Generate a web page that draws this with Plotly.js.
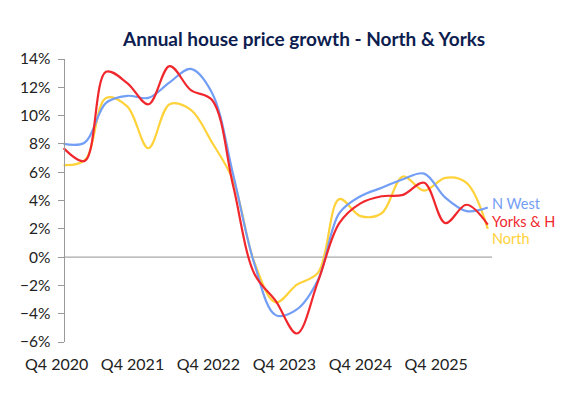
<!DOCTYPE html>
<html>
<head>
<meta charset="utf-8">
<script src="https://cdn.plot.ly/plotly-3.0.1.min.js"></script>
<style>html,body{margin:0;padding:0;background:#fff;}#chart{width:586px;height:397px;}</style>
</head>
<body>
<div id="chart"></div>
<script>
// Quarters Q4 2020 .. Q4 2025
const quarters = ['Q4 2020','Q1 2021','Q2 2021','Q3 2021','Q4 2021','Q1 2022','Q2 2022','Q3 2022','Q4 2022',
  'Q1 2023','Q2 2023','Q3 2023','Q4 2023','Q1 2024','Q2 2024','Q3 2024','Q4 2024','Q1 2025','Q2 2025','Q3 2025','Q4 2025'];
const tickLabels = ['Q4 2020','Q4 2021','Q4 2022','Q4 2023','Q4 2024','Q4 2025'];

const nWest  = [8.0, 8.1, 10.9, 11.4, 11.25, 12.35, 13.3, 11.6, 5.8, -0.5, -4.1, -3.7, -1.6, 3.1, 4.3, 4.9, 5.5, 5.9, 4.2, 3.25, 3.5];
const yorksH = [7.7, 6.8, 13.1, 12.3, 10.8, 13.5, 11.8, 11.1, 5.0, -1.2, -3.1, -5.4, -1.7, 2.4, 3.8, 4.3, 4.4, 5.25, 2.4, 3.7, 2.3];
const north  = [6.5, 6.85, 11.25, 10.65, 7.7, 10.8, 10.4, 8.1, 5.4, -0.4, -3.2, -1.95, -1.1, 4.1, 2.9, 3.1, 5.7, 4.7, 5.6, 5.25, 2.0];

const seriesNames = ['N West', 'Yorks & H', 'North'];
const seriesData = [nWest, yorksH, north];
const colors = ['#739ef5', '#f0282d', '#ffd23a'];
const labelShift = [4, 3.5, -9.5];

const xIdx = quarters.map((_, i) => i);
const traces = seriesData.map((d, k) => ({
  x: xIdx, y: d, type: 'scatter', mode: 'lines', name: seriesNames[k],
  line: {color: colors[k], width: 2.2, shape: 'spline', smoothing: 1},
  cliponaxis: false, hoverinfo: 'skip'
}));
// draw order: yellow back, blue, red front
const ordered = [traces[2], traces[0], traces[1]];

const xr = [-0.5, 20.2];
const tickvals = tickLabels.map((_, k) => -0.33 + 3.58 * k);

const annotations = seriesData.map((d, k) => ({
  x: d.length - 1, y: d[d.length - 1], xref: 'x', yref: 'y',
  text: seriesNames[k], showarrow: false, xanchor: 'left', yanchor: 'middle',
  xshift: 3, yshift: labelShift[k], borderpad: 0,
  font: {family: 'Lato, sans-serif', size: 14.5, color: colors[k]}
}));

const layout = {
  width: 586, height: 397,
  margin: {l: 53.4, r: 93.8, t: 59, b: 55},
  paper_bgcolor: '#ffffff', plot_bgcolor: '#ffffff',
  showlegend: false,
  font: {family: 'Lato, sans-serif', color: '#222'},
  title: {
    text: '<b>Annual house price growth - North & Yorks</b>',
    font: {family: 'Lato, sans-serif', size: 19, color: '#0d1d4f'},
    x: 0.519, xref: 'container', xanchor: 'center',
    y: 0.9, yref: 'container', yanchor: 'middle'
  },
  xaxis: {
    range: xr, showgrid: false, zeroline: false, showline: false, ticks: '',
    tickmode: 'array', tickvals: tickvals, ticktext: tickLabels,
    tickfont: {size: 16, color: '#222'}, ticklabelstandoff: 11
  },
  yaxis: {
    range: [-6, 14], dtick: 2, tick0: 0, ticksuffix: '%',
    anchor: 'free', position: 10.6 / 438.8,
    showgrid: false, zeroline: false, showline: true, linecolor: '#9a9a9a', linewidth: 1,
    ticks: 'outside', ticklen: 6, tickcolor: '#9a9a9a',
    tickfont: {size: 15.5, color: '#222'}, ticklabelstandoff: 4
  },
  shapes: [{type: 'line', xref: 'x', yref: 'y', x0: 0, x1: 20.2, y0: 0, y1: 0,
    line: {color: '#a8a8a8', width: 1.2}, layer: 'below'}],
  annotations: annotations
};

Plotly.newPlot('chart', ordered, layout, {displayModeBar: false, staticPlot: true});
</script>
</body>
</html>
